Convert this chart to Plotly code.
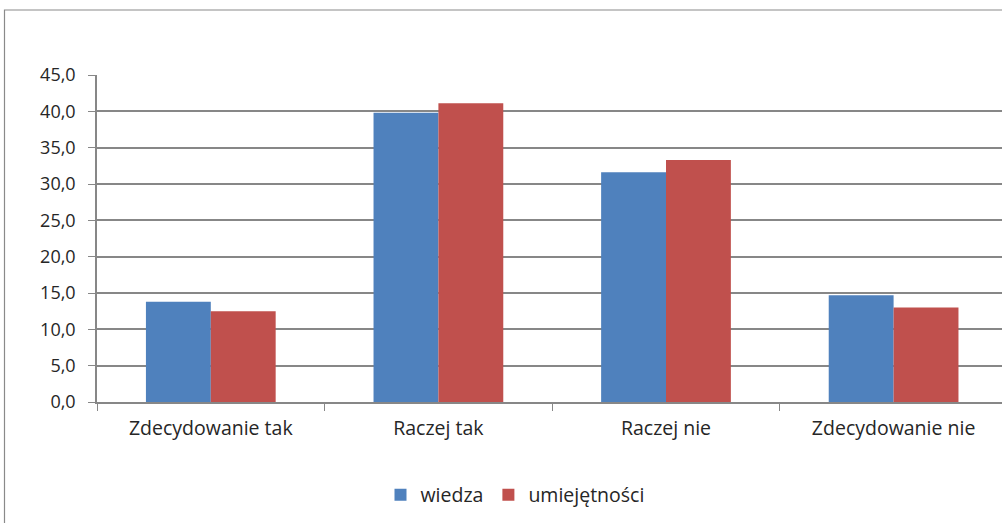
import plotly.graph_objects as go

categories = ["Zdecydowanie tak", "Raczej tak", "Raczej nie", "Zdecydowanie nie"]
wiedza = [13.8, 39.8, 31.6, 14.7]
umiejetnosci = [12.5, 41.1, 33.3, 13.0]
y_ticks = [0, 5, 10, 15, 20, 25, 30, 35, 40, 45]
y_tick_labels = ["0,0", "5,0", "10,0", "15,0", "20,0", "25,0", "30,0", "35,0", "40,0", "45,0"]

W, H = 1002, 523
AX_X, TOP_Y, ZERO_Y = 97, 75, 402  # window pixel positions
L = AX_X
T = TOP_Y
B = H - ZERO_Y
R = 0
pw = W - L - R
ph = H - T - B

FONT = "Open Sans"
TXT = "#262626"
GRID = "#878787"
FS_Y = 18
FS = 19.5

fig = go.Figure()
fig.add_trace(go.Bar(name="wiedza", x=categories, y=wiedza, marker=dict(color="#4F81BD", line=dict(width=0))))
fig.add_trace(go.Bar(name="umiejętności", x=categories, y=umiejetnosci, marker=dict(color="#C0504D", line=dict(width=0))))

def px_x(p):
    return (p - L) / pw

def px_y(p):
    return (ZERO_Y - p) / ph

cat_w = 227.6
fig.update_layout(
    width=W, height=H,
    margin=dict(l=L, r=R, t=T, b=B),
    paper_bgcolor="white", plot_bgcolor="white",
    barmode="group", bargap=0.43, bargroupgap=0,
    font=dict(family=FONT, size=FS, color=TXT),
    showlegend=True,
    legend=dict(orientation="h", x=px_x(515), xanchor="center", y=px_y(495), yanchor="middle",
                font=dict(family=FONT, size=FS, color=TXT), itemwidth=30, tracegroupgap=0),
    xaxis=dict(
        range=[-0.5, -0.5 + pw / cat_w], tickson="boundaries", ticks="outside", ticklen=7,
        tickcolor=GRID, showline=True, linecolor=GRID, linewidth=1.5, showgrid=False,
        ticklabelstandoff=8, tickfont=dict(family=FONT, size=FS, color=TXT),
    ),
    yaxis=dict(
        range=[0, 45], tickmode="array", tickvals=y_ticks, ticktext=y_tick_labels,
        ticks="outside", ticklen=7, tickcolor=GRID, showline=True, linecolor=GRID, linewidth=1.5,
        showgrid=True, gridcolor=GRID, gridwidth=1.5, zeroline=False,
        ticklabelstandoff=9, tickfont=dict(family=FONT, size=FS_Y, color=TXT),
    ),
    shapes=[dict(type="rect", xref="paper", yref="paper",
                 x0=px_x(4.5), x1=px_x(1015), y0=px_y(10), y1=px_y(545),
                 line=dict(color="#8a8a8a", width=1.2), fillcolor="rgba(0,0,0,0)", layer="below")],
)

fig.write_html("out.html", config={"displayModeBar": False},
               post_script="document.body.style.margin='0';")
